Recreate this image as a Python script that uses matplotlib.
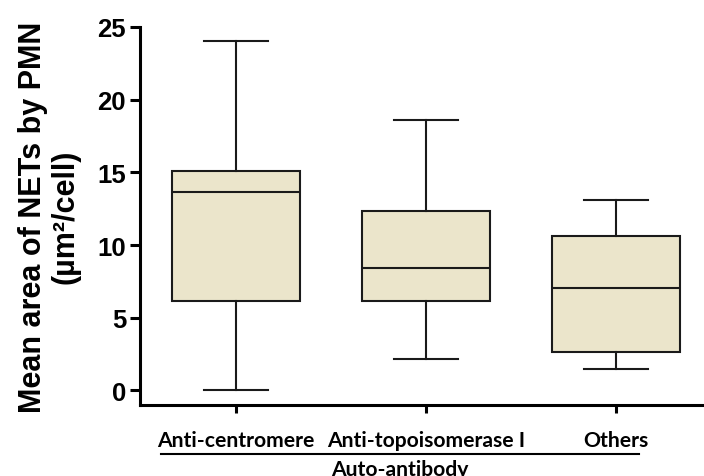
import matplotlib
matplotlib.use("Agg")
import matplotlib.pyplot as plt
from matplotlib.lines import Line2D

# summary stats
groups = ["Anti-centromere", "Anti-topoisomerase I", "Others"]
whisker_low = [0.0, 2.13, 1.49]
q1 = [6.14, 6.18, 2.64]
median = [13.63, 8.45, 7.05]
q3 = [15.1, 12.34, 10.62]
whisker_high = [24.04, 18.59, 13.1]

yticks = [0, 5, 10, 15, 20, 25]

stats = []
for i in range(len(groups)):
    stats.append({"label": groups[i], "whislo": whisker_low[i], "q1": q1[i],
                  "med": median[i], "q3": q3[i], "whishi": whisker_high[i]})

fig = plt.figure(figsize=(7.04, 4.77), dpi=100)
ax = fig.add_axes([140/704, 1-406/477, 1-140/704, (406-28)/477])

lw = 1.5
ax.bxp(stats, positions=[1, 2, 3], widths=0.67, showfliers=False, patch_artist=True,
       capwidths=0.34,
       boxprops=dict(facecolor="#ebe5cb", edgecolor="#1a1a1a", linewidth=lw),
       medianprops=dict(color="#1a1a1a", linewidth=lw),
       whiskerprops=dict(color="#1a1a1a", linewidth=lw),
       capprops=dict(color="#1a1a1a", linewidth=lw))

ax.set_xlim(1-96/190, 3+88/190)
ax.set_ylim(-1, 25)
ax.spines["top"].set_visible(False)
ax.spines["right"].set_visible(False)
ax.spines["left"].set_linewidth(2.2)
ax.spines["bottom"].set_linewidth(2.2)

ax.set_yticks(yticks)
ax.set_yticklabels([str(t) for t in yticks], fontfamily="Liberation Sans",
                   fontweight="bold", fontsize=18.5)
ax.tick_params(axis="y", length=7, width=2.2, pad=3)
ax.set_xticks([1, 2, 3])
ax.set_xticklabels(groups, fontfamily="Lato", fontweight="bold", fontsize=15.2)
ax.tick_params(axis="x", length=6, width=2.2, pad=12)

ax.set_ylabel("Mean area of NETs by PMN\n(µm²/cell)", fontfamily="Liberation Sans",
              fontweight="bold", fontsize=22, linespacing=1.15)
ax.yaxis.set_label_coords(-59/564, 0.5)

fig.add_artist(Line2D([161/704, 639/704], [1-455/477, 1-455/477],
                      transform=fig.transFigure, color="black", linewidth=1.5))
fig.text(400/704, 1-476/477, "Auto-antibody", ha="center", va="baseline",
         fontfamily="Lato", fontweight="bold", fontsize=15.2)

fig.savefig("out.png", dpi=100)
